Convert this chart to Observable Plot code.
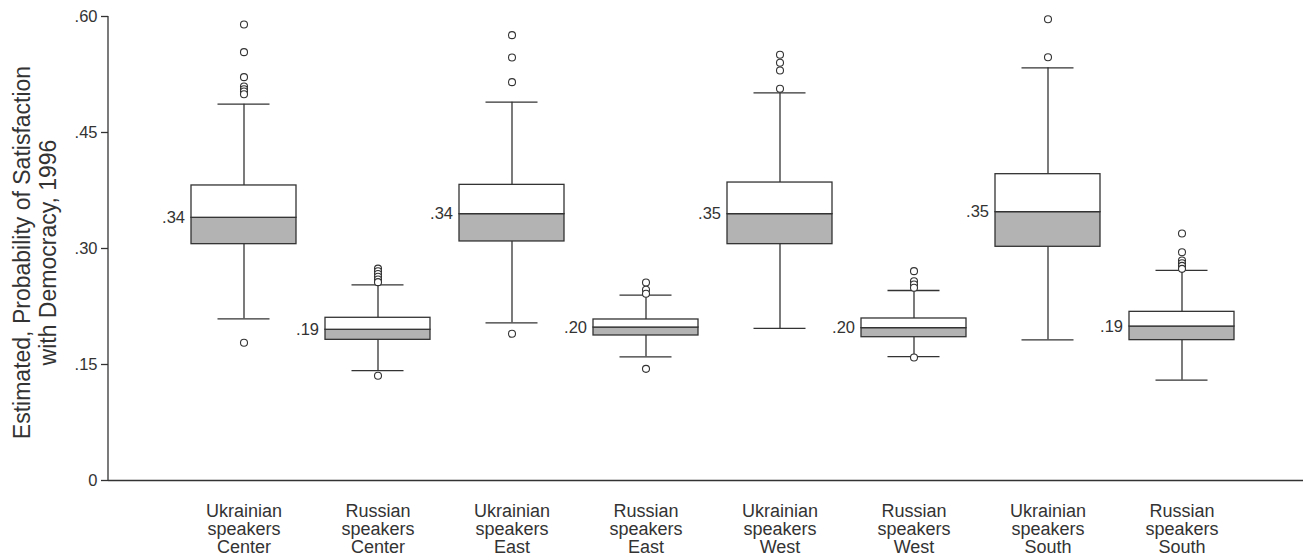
<!DOCTYPE html>
<html><head><meta charset="utf-8">
<script src="https://cdn.jsdelivr.net/npm/d3@7"></script>
<script src="https://cdn.jsdelivr.net/npm/@observablehq/plot@0.6"></script>
<style>
html,body{margin:0;padding:0;background:#fff;}
#chart{width:1303px;height:558px;}
</style></head><body><div id="chart"></div>
<script>
const categories = [
  "Ukrainian speakers Center", "Russian speakers Center",
  "Ukrainian speakers East", "Russian speakers East",
  "Ukrainian speakers West", "Russian speakers West",
  "Ukrainian speakers South", "Russian speakers South"
];
const q1 =          [0.3056, 0.1819, 0.3091, 0.1875, 0.3056, 0.1853, 0.3022, 0.1815];
const median =      [0.3397, 0.1949, 0.3444, 0.1978, 0.3444, 0.1970, 0.3470, 0.1991];
const q3 =          [0.3815, 0.2104, 0.3823, 0.2082, 0.3853, 0.2095, 0.3961, 0.2181];
const whiskerLow =  [0.2091, 0.1422, 0.2039, 0.1599, 0.1966, 0.1603, 0.1819, 0.1297];
const whiskerHigh = [0.4866, 0.2530, 0.4892, 0.2397, 0.5013, 0.2457, 0.5336, 0.2716];
const medianLabels = [".34", ".19", ".34", ".20", ".35", ".20", ".35", ".19"];
const outliers = [
  [0.5897, 0.5539, 0.5216, 0.5095, 0.5060, 0.5030, 0.4995, 0.1781],
  [0.2740, 0.2705, 0.2670, 0.2635, 0.2600, 0.2565, 0.1354],
  [0.5759, 0.5470, 0.5151, 0.1897],
  [0.2560, 0.2466, 0.2414, 0.1444],
  [0.5505, 0.5401, 0.5302, 0.5065],
  [0.2707, 0.2577, 0.2534, 0.2492, 0.1590],
  [0.5965, 0.5474],
  [0.3194, 0.2952, 0.2845, 0.2810, 0.2775, 0.2737]
];
const yTicks = [0, 0.15, 0.30, 0.45, 0.60];
const yTickLabels = ["0", ".15", ".30", ".45", ".60"];
const yTitle = "Estimated, Probability of Satisfaction\nwith Democracy, 1996";

const ink = "#333333";
const boxFill = "#b3b3b3";

const rows = categories.map((c, i) => ({
  cat: c, q1: q1[i], med: median[i], q3: q3[i],
  lo: whiskerLow[i], hi: whiskerHigh[i], label: medianLabels[i]
}));
const outlierRows = categories.flatMap((c, i) => outliers[i].map(v => ({cat: c, v})));

const plot = Plot.plot({
  width: 1303, height: 558,
  marginLeft: 108, marginRight: 0, marginTop: 16, marginBottom: 78,
  style: {fontFamily: "'Liberation Sans', Arial, Helvetica, sans-serif", color: ink, background: "white", overflow: "visible"},
  x: {type: "band", domain: categories, range: [187.7, 1237], paddingInner: 0.2134, paddingOuter: 0},
  y: {domain: [0, 0.6]},
  marks: [
    Plot.ruleY([0], {stroke: ink, strokeWidth: 1.3}),
    Plot.axisY({ticks: yTicks, tickFormat: d => yTickLabels[yTicks.indexOf(d)], tickSize: 7, tickPadding: 4,
                fontSize: 16.5, stroke: ink, strokeWidth: 1.3, label: null}),
    Plot.axisX({tickSize: 0, tickPadding: 23, fontSize: 18, lineHeight: 1.02,
                tickFormat: d => d.replace(/ /g, "\n"), label: null}),
    Plot.text([yTitle], {frameAnchor: "left", textAnchor: "middle", lineAnchor: "middle", rotate: -90,
                         dx: -73.5, dy: 4, fontSize: 23, lineHeight: 1.1, fill: ink}),
    // whiskers
    Plot.ruleX(rows, {x: "cat", y1: "q3", y2: "hi", stroke: ink, strokeWidth: 1.3}),
    Plot.ruleX(rows, {x: "cat", y1: "q1", y2: "lo", stroke: ink, strokeWidth: 1.3}),
    Plot.tickY(rows, {x: "cat", y: "hi", inset: 26.5, stroke: ink, strokeWidth: 1.3}),
    Plot.tickY(rows, {x: "cat", y: "lo", inset: 26.5, stroke: ink, strokeWidth: 1.3}),
    // boxes
    Plot.barY(rows, {x: "cat", y1: "q1", y2: "med", fill: boxFill, stroke: ink, strokeWidth: 1.3}),
    Plot.barY(rows, {x: "cat", y1: "med", y2: "q3", fill: "white", stroke: ink, strokeWidth: 1.3}),
    // outliers
    Plot.dot(outlierRows, {x: "cat", y: "v", r: 3.5, stroke: ink, fill: "white", strokeWidth: 1.1}),
    // median labels
    Plot.text(rows, {x: "cat", y: "med", text: "label", textAnchor: "end", dx: -59, fontSize: 16.5, fill: ink})
  ]
});

const ys = plot.scale("y");
d3.select(plot).append("line")
  .attr("x1", 108).attr("x2", 108)
  .attr("y1", ys.apply(0)).attr("y2", ys.apply(0.6))
  .attr("stroke", ink).attr("stroke-width", 1.3);

document.getElementById("chart").appendChild(plot);
</script>
</body></html>
